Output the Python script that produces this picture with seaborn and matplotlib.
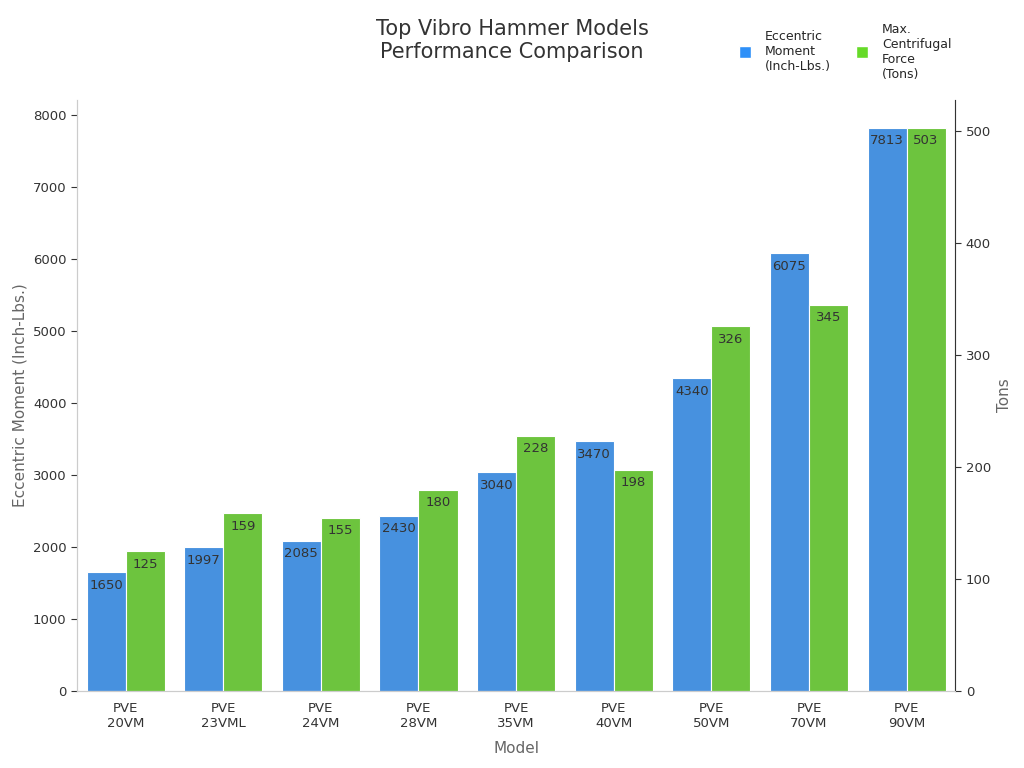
import numpy as np
import pandas as pd
import matplotlib.pyplot as plt
import seaborn as sns
from matplotlib.lines import Line2D

models = ["PVE\n20VM", "PVE\n23VML", "PVE\n24VM", "PVE\n28VM", "PVE\n35VM",
          "PVE\n40VM", "PVE\n50VM", "PVE\n70VM", "PVE\n90VM"]
moment = [1650, 1997, 2085, 2430, 3040, 3470, 4340, 6075, 7813]
force = [125, 159, 155, 180, 228, 198, 326, 345, 503]

s1 = "Eccentric Moment (Inch-Lbs.)"
s2 = "Max. Centrifugal Force (Tons)"
blue, green = "#2E90F8", "#66DA28"

n = len(models)
df1 = pd.DataFrame({"Model": models * 2, "series": [s1] * n + [s2] * n,
                    "value": moment + [np.nan] * n})
df2 = pd.DataFrame({"Model": models * 2, "series": [s1] * n + [s2] * n,
                    "value": [np.nan] * n + force})

sns.set_style("white")
fig = plt.figure(figsize=(10.24, 7.68), dpi=100)
ax1 = fig.add_axes([0.075, 0.100, 0.858, 0.770])
ax2 = ax1.twinx()
pal = {s1: blue, s2: green}
sns.barplot(data=df1, x="Model", y="value", hue="series", hue_order=[s1, s2],
            palette=pal, ax=ax1, width=0.8, edgecolor="white", linewidth=0.8,
            legend=False)
sns.barplot(data=df2, x="Model", y="value", hue="series", hue_order=[s1, s2],
            palette=pal, ax=ax2, width=0.8, edgecolor="white", linewidth=0.8,
            legend=False)

ax1.set_xlim(-0.5, n - 0.5)
ax1.set_ylim(0, max(moment) * 1.05)
ax2.set_ylim(0, max(force) * 1.05)
ax1.set_yticks(range(0, 8001, 1000))
ax2.set_yticks(range(0, 501, 100))

for ax in (ax1, ax2):
    for c in ax.containers:
        labels = ["" if np.isnan(v) else f"{v:.0f}" for v in c.datavalues]
        ax.bar_label(c, labels=labels, padding=-14, fontsize=9.5, color="#333333")

grey = "#666666"
ax1.set_xlabel("Model", fontsize=11, color=grey, labelpad=8)
ax1.set_ylabel("Eccentric Moment (Inch-Lbs.)", fontsize=11, color=grey)
ax2.set_ylabel("Tons", fontsize=11, color=grey)
for ax in (ax1, ax2):
    ax.spines["top"].set_visible(False)
    for sp in ("left", "right", "bottom"):
        ax.spines[sp].set_color("#cccccc")
    ax.tick_params(labelsize=9.5, colors="#333333", length=4)
    ax.tick_params(color="#333333")
ax2.spines["right"].set_color("#333333")
ax1.spines["left"].set_color("#cccccc")

fig.suptitle("Top Vibro Hammer Models\nPerformance Comparison", x=0.5, y=0.975,
             fontsize=15, color="#333333")

handles = [Line2D([], [], marker="s", color="w", markerfacecolor=blue, markersize=9),
           Line2D([], [], marker="s", color="w", markerfacecolor=green, markersize=9)]
fig.legend(handles, ["Eccentric\nMoment\n(Inch-Lbs.)", "Max.\nCentrifugal\nForce\n(Tons)"],
           loc="upper right", bbox_to_anchor=(0.94, 0.985), ncol=2, frameon=False,
           fontsize=9, handletextpad=0.6, columnspacing=1.5)

fig.savefig("out.png", dpi=100)
